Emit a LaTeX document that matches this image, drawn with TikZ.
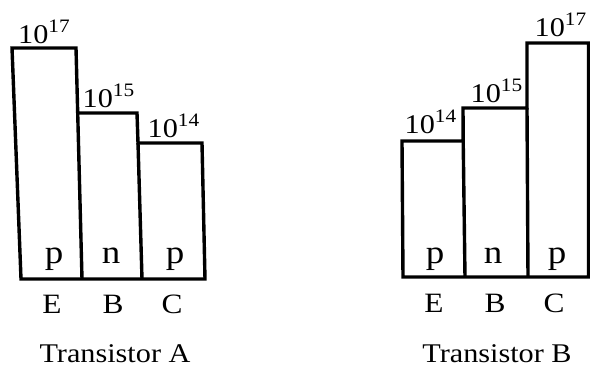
\documentclass[tikz,border=0pt]{standalone}
\usepackage{fontspec}
\setmainfont{Liberation Serif}[FakeStretch=1.12]
\begin{document}
\begin{tikzpicture}[x=1pt,y=-1pt,
  bar/.style={line width=3.4pt,line join=miter},
  conc/.style={anchor=base,inner sep=0pt,font=\fontsize{27}{31}\selectfont},
  kind/.style={anchor=base,inner sep=0pt,font=\fontsize{33}{38}\selectfont},
  term/.style={anchor=base,inner sep=0pt,font=\fontsize{28}{32}\selectfont},
  title/.style={anchor=base,inner sep=0pt,font=\fontsize{27}{31}\selectfont}]
\newcommand{\dop}[1]{10\raisebox{10.5pt}{\fontsize{19}{22}\selectfont #1}}
\useasboundingbox (0,0) rectangle (590,367);

% Transistor A: doping bars E, B, C
\draw[bar] (12,48) -- (76,48) -- (77.7,113) -- (137,113) -- (138,143)
  -- (202,143) -- (205,279) -- (21,279) -- cycle;
\draw[bar] (77.7,113) -- (82,279);
\draw[bar] (138,143) -- (142,279);

\node[conc] (aE) at (44,43) {\dop{17}};
\node[conc] (aB) at (108.5,107) {\dop{15}};
\node[conc] (aC) at (173.5,137) {\dop{14}};
\node[kind] (apE) at (54,263) {p};
\node[kind] (anB) at (111,263) {n};
\node[kind] (apC) at (175,263) {p};
\node[term] (atE) at (52,313) {E};
\node[term] (atB) at (113,313) {B};
\node[term] (atC) at (172,313) {C};
\node[title] (ta) at (115,362) {Transistor A};

% Transistor B: doping bars E, B, C
\draw[bar] (402,141) -- (463.2,141) -- (463,108) -- (527,108) -- (527,43)
  -- (588.5,43) -- (588.5,277) -- (403,277) -- cycle;
\draw[bar] (463.2,141) -- (465,277);
\draw[bar] (527,108) -- (528,277);

\node[conc] (bE) at (430.5,133) {\dop{14}};
\node[conc] (bB) at (496.5,102) {\dop{15}};
\node[conc] (bC) at (560.5,36) {\dop{17}};
\node[kind] (bpE) at (435,263) {p};
\node[kind] (bnB) at (493,263) {n};
\node[kind] (bpC) at (557,263) {p};
\node[term] (btE) at (434,312) {E};
\node[term] (btB) at (495,312) {B};
\node[term] (btC) at (554,312) {C};
\node[title] (tb) at (497,362) {Transistor B};
\end{tikzpicture}
\end{document}
